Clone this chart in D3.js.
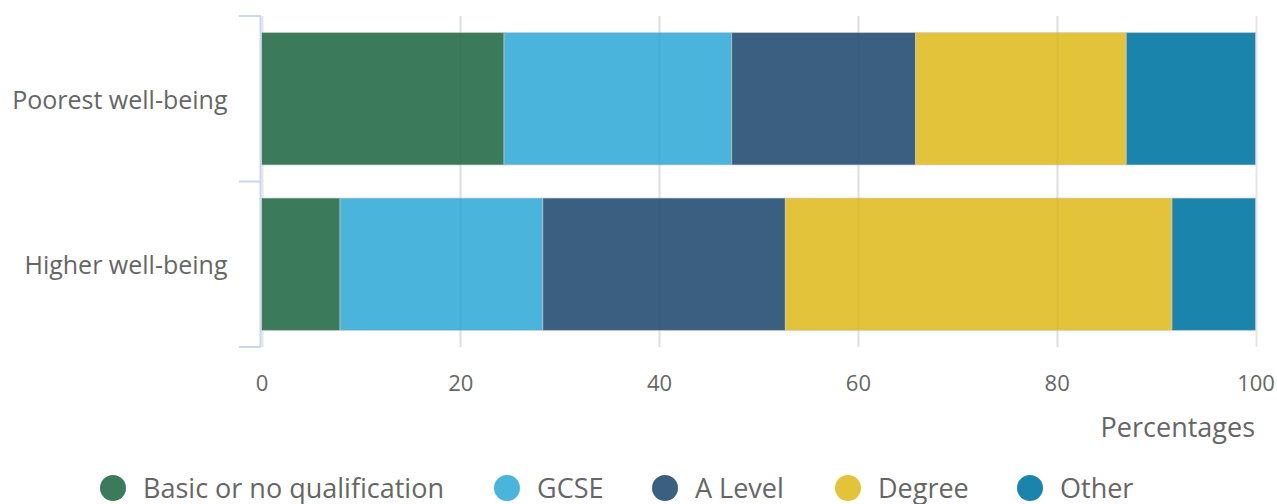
<!DOCTYPE html>
<html><head><meta charset="utf-8">
<script src="https://cdn.jsdelivr.net/npm/d3@7"></script>
<style>body{margin:0;background:#fff;}svg{display:block;font-family:"Open Sans",sans-serif;}</style>
</head><body>
<svg id="c" width="1277" height="504"></svg>
<script>
const categories = ["Poorest well-being", "Higher well-being"];
const seriesNames = ["Basic or no qualification", "GCSE", "A Level", "Degree", "Other"];
const basic = [24.4, 7.9];
const gcse = [22.9, 20.4];
const aLevel = [18.5, 24.4];
const degree = [21.2, 38.9];
const other = [13.0, 8.4];
const xTicks = [0, 20, 40, 60, 80, 100];
const colors = ["#3b7a5a", "#4ab4dc", "#3a5f80", "#e2c33a", "#1a84ac"];

const seriesVals = [basic, gcse, aLevel, degree, other];
const rows = categories.map((c, i) => {
  const r = {cat: c};
  seriesNames.forEach((s, j) => r[s] = seriesVals[j][i]);
  return r;
});
const stack = d3.stack().keys(seriesNames)(rows);

const svg = d3.select("#c");
const x = d3.scaleLinear().domain([0, 100]).range([261.5, 1255.5]);
const y = d3.scaleBand().domain(categories).range([16, 347]).paddingInner(0.2).paddingOuter(0.1);

// gridlines
svg.append("g").selectAll("line").data(xTicks).join("line")
  .attr("x1", d => Math.round(x(d)) + 0.5).attr("x2", d => Math.round(x(d)) + 0.5)
  .attr("y1", 16).attr("y2", 347)
  .attr("stroke", "#e6e6e6").attr("stroke-width", 2);

// bars
svg.append("g").selectAll("g").data(stack).join("g")
  .attr("fill", (d, i) => colors[i])
  .selectAll("rect").data(d => d).join("rect")
  .attr("x", d => x(d[0])).attr("width", d => x(d[1]) - x(d[0]))
  .attr("y", d => y(d.data.cat)).attr("height", y.bandwidth())
  .attr("stroke", "#cccccc").attr("stroke-opacity", 0.6).attr("stroke-width", 1);

// faint gridlines showing through the bars
svg.append("g").selectAll("line").data(xTicks.slice(1, -1)).join("line")
  .attr("x1", d => Math.round(x(d)) + 0.5).attr("x2", d => Math.round(x(d)) + 0.5)
  .attr("y1", 16).attr("y2", 347)
  .attr("stroke", "#000").attr("stroke-opacity", 0.03).attr("stroke-width", 2);

// y axis
const yAxis = d3.axisLeft(y).tickSize(0).tickPadding(33);
const yg = svg.append("g").attr("transform", "translate(260.5,2)").call(yAxis);
yg.select(".domain").remove();
yg.selectAll("text").attr("font-size", 25).attr("fill", "#666666").attr("font-family", "Open Sans");
svg.append("path")
  .attr("d", "M260.5,16V347")
  .attr("stroke", "#ccd6eb").attr("stroke-width", 2).attr("fill", "none");
const bandEdges = [0, 1, 2].map(i => y.range()[0] + i * (y.range()[1] - y.range()[0]) / 2);
svg.append("g").selectAll("line").data(bandEdges).join("line")
  .attr("x1", 239).attr("x2", 261)
  .attr("y1", d => d).attr("y2", d => d)
  .attr("stroke", "#ccd6eb").attr("stroke-width", 2);

// x axis
const xAxis = d3.axisBottom(x).tickValues(xTicks).tickSize(0).tickPadding(0);
const xg = svg.append("g").attr("transform", "translate(0,383)").call(xAxis);
xg.select(".domain").remove();
xg.selectAll("text").attr("font-size", 22).attr("fill", "#666666").attr("font-family", "Open Sans").attr("dy", "0.35em").attr("y", 0);

svg.append("text").attr("x", 1255).attr("y", 437).attr("text-anchor", "end")
  .attr("font-size", 27).attr("fill", "#666666").text("Percentages");

// legend
const legendX = [113, 507, 665, 848, 1030];
const lg = svg.append("g").selectAll("g").data(seriesNames).join("g")
  .attr("transform", (d, i) => `translate(${legendX[i]},488)`);
lg.append("circle").attr("r", 13).attr("fill", (d, i) => colors[i]);
lg.append("text").attr("x", 30).attr("y", 10).attr("font-size", 27).attr("fill", "#666666").text(d => d);
</script>
</body></html>
